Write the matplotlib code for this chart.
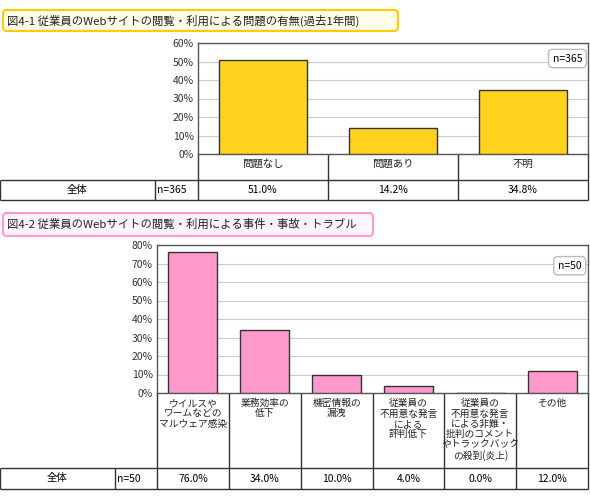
import matplotlib
matplotlib.use("Agg")
import matplotlib.pyplot as plt
from matplotlib.patches import FancyBboxPatch

plt.rcParams['font.family'] = ['Noto Sans CJK JP', 'DejaVu Sans']

title1 = "図4-1 従業員のWebサイトの閲覧・利用による問題の有無(過去1年間)"
cats1 = ["問題なし", "問題あり", "不明"]
vals1 = [51.0, 14.2, 34.8]
n1 = "n=365"

title2 = "図4-2 従業員のWebサイトの閲覧・利用による事件・事故・トラブル"
cats2 = ["ウイルスや\nワームなどの\nマルウェア感染", "業務効率の\n低下", "機密情報の\n漏洩",
         "従業員の\n不用意な発言\nによる\n評判低下",
         "従業員の\n不用意な発言\nによる非難・\n批判のコメント\nやトラックバック\nの殺到(炎上)", "その他"]
vals2 = [76.0, 34.0, 10.0, 4.0, 0.0, 12.0]
n2 = "n=50"
row_label = "全体"

W, H = 590, 500
fig = plt.figure(figsize=(W/100, H/100), dpi=100)
ov = fig.add_axes([0, 0, 1, 1], zorder=0)
ov.set_xlim(0, W); ov.set_ylim(H, 0); ov.axis('off')

def pax(x0, y0, x1, y1):
    return fig.add_axes([x0/W, 1-y1/H, (x1-x0)/W, (y1-y0)/H], zorder=2)

def line(x0, y0, x1, y1, lw=1.0, c='#333333'):
    ov.plot([x0, x1], [y0, y1], color=c, lw=lw, solid_capstyle='butt')

def panel(title, tb, tcol, tfill, cats, vals, n, ymax, color,
          ax_box, cat_bottom, tab_bottom, lab_x, n_x, fs_cat):
    x0, y0, x1, y1 = ax_box
    # title box
    ov.add_patch(FancyBboxPatch((tb[0], tb[1]), tb[2]-tb[0], tb[3]-tb[1],
                 boxstyle="round,pad=0,rounding_size=4", fc=tfill, ec=tcol, lw=1.5))
    ov.text(tb[0]+4, (tb[1]+tb[3])/2, title, fontsize=8.2, va='center', ha='left', color='#222222')
    ax = pax(x0, y0, x1, y1)
    k = len(cats)
    ax.bar(range(k), vals, width=0.68, color=color, edgecolor='#333333', lw=1.0, zorder=3)
    ax.set_xlim(-0.5, k-0.5); ax.set_ylim(0, ymax)
    ax.set_yticks(range(0, ymax+1, 10))
    ax.set_yticklabels([f"{t}%" for t in range(0, ymax+1, 10)], fontsize=7.5, color='#333333')
    ax.yaxis.grid(True, color='#cccccc', lw=0.8, zorder=0)
    ax.set_xticks([])
    ax.tick_params(axis='y', length=0, pad=3)
    for s in ax.spines.values():
        s.set_color('#555555'); s.set_linewidth(1.0)
    ax.text(0.985, 0.86, n, transform=ax.transAxes, ha='right', va='center', fontsize=7.5,
            bbox=dict(boxstyle='round,pad=0.4', fc='white', ec='#bbbbbb', lw=1))
    cw = (x1-x0)/k
    # category row
    line(x0, y1, x0, tab_bottom); line(x1, y1, x1, tab_bottom)
    for i in range(1, k):
        line(x0+i*cw, y1, x0+i*cw, tab_bottom)
    line(0, cat_bottom, x1, cat_bottom)
    line(0, tab_bottom, x1, tab_bottom)
    line(0, cat_bottom, 0, tab_bottom); line(n_x, cat_bottom, n_x, tab_bottom)
    for i, c in enumerate(cats):
        ov.text(x0+(i+0.5)*cw, y1+5, c, ha='center', va='top', fontsize=fs_cat,
                linespacing=1.05, color='#222222')
    ym = (cat_bottom+tab_bottom)/2
    ov.text(lab_x, ym, row_label, ha='center', va='center', fontsize=7.5)
    ov.text(n_x+2, ym, n, ha='left', va='center', fontsize=7.5)
    for i, v in enumerate(vals):
        ov.text(x0+(i+0.5)*cw, ym, f"{v:.1f}%", ha='center', va='center', fontsize=7.5)

panel(title1, (3, 10, 398, 31), '#FFCC00', '#FFFDE8', cats1, vals1, n1, 60, '#FFD21E',
      (198, 43, 588, 154), 180, 200, 77, 155, 7.5)
panel(title2, (3, 213, 373, 236), '#FF99CC', '#FFF4FA', cats2, vals2, n2, 80, '#FF99CC',
      (157, 245, 588, 393), 468, 489, 57, 115, 7.0)

fig.savefig("out.png", dpi=100)
